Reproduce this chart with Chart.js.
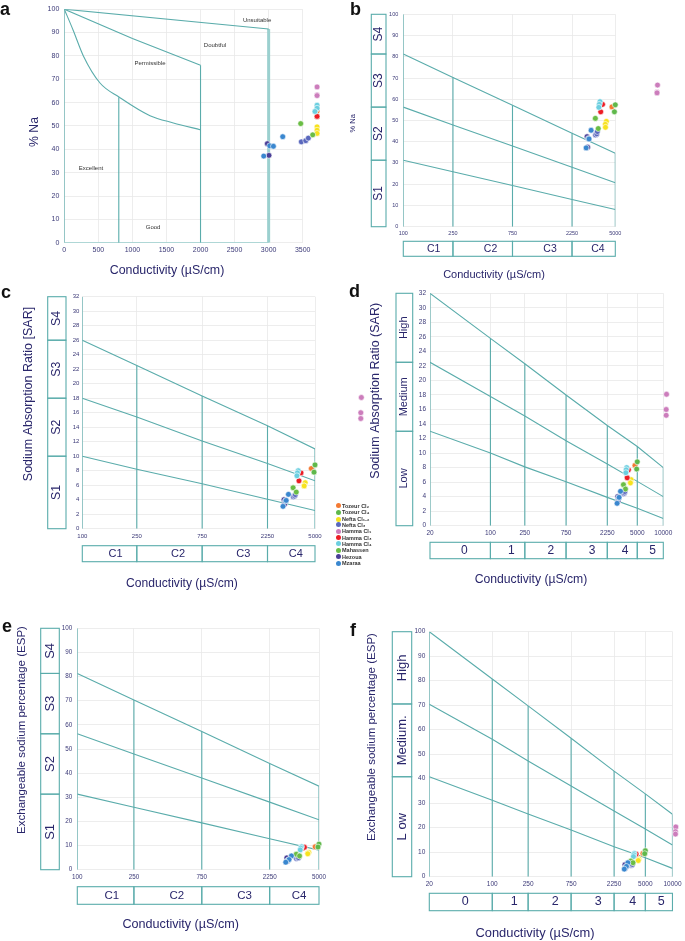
<!DOCTYPE html>
<html>
<head>
<meta charset="utf-8">
<script src="https://cdn.jsdelivr.net/npm/chart.js@4.4.1/dist/chart.umd.min.js"></script>
<style>
  html, body { margin: 0; padding: 0; background: #fff; }
  body { width: 685px; height: 941px; position: relative; overflow: hidden; font-family: "Liberation Sans", Arial, sans-serif; }
  canvas { position: absolute; }
  .lg { position: absolute; left: 335.5px; height: 6px; line-height: 6px; font: bold 5.5px "Liberation Sans", Arial, sans-serif; color: #333; white-space: nowrap; transform: translateY(-50%); }
  .lg span { display: inline-block; width: 5px; height: 5px; border-radius: 50%; margin-right: 1.5px; vertical-align: middle; position: relative; top: -0.5px; }
</style>
</head>
<body>
<script>
// ---------- sample groups (legend order) ----------
const groups = ['Tozeur Cl₂', 'Tozeur Cl₄', 'Nefta Cl₁₋₂', 'Nefta Cl₃', 'Hamma Cl₁', 'Hamma Cl₃', 'Hamma Cl₄', 'Mahassen', 'Hezoua', 'Mzaraa'];
const colors = ['#f47a33', '#5fb84b', '#f7e21e', '#5a68bd', '#cc7dbc', '#ec1c24', '#6ccfe0', '#6abd45', '#4b3f97', '#3a87cf'];

// conductivity (µS/cm) of each sample, per group
const ec = [
  [4700],
  [5000, 4920],
  [4240, 4160, 4170],
  [3470, 3550, 3590],
  [10900, 10800, 10800],
  [3820, 3950],
  [3770, 3720, 3690],
  [3460, 3650],
  [2970, 3000],
  [3200, 3040, 3080, 2920]
];
// conductivity positions as plotted on the Wilcox panel (a)
const ecWilcox = [
  [3711],
  [3711, 3711],
  [3711, 3711, 3711],
  [3480, 3545, 3583],
  [3711, 3711, 3711],
  [3711, 3711],
  [3711, 3711, 3680],
  [3471, 3647],
  [2981, 3005],
  [3207, 3016, 3070, 2928]
];
const naPct = [
  [56.4],
  [57.4, 54.1],
  [49.6, 48.2, 46.8],
  [43.2, 43.7, 44.8],
  [66.7, 63.3, 63.0],
  [54.1, 57.6],
  [58.9, 57.6, 56.2],
  [51.0, 46.2],
  [42.4, 37.4],
  [45.4, 41.5, 41.3, 37.1]
];
const sar = [
  [8.3],
  [8.8, 7.8],
  [6.35, 5.9, 5.9],
  [4.4, 4.5, 4.7],
  [18.1, 16.0, 15.2],
  [6.6, 7.7],
  [8.0, 7.7, 7.3],
  [5.65, 5.05],
  [4.0, 3.4],
  [4.74, 3.82, 3.9, 3.08]
];
const esp = [
  [9.5],
  [10.6, 9.4],
  [7.2, 6.8, 6.6],
  [4.6, 4.8, 5.0],
  [20.3, 18.4, 17.4],
  [8.9, 9.3],
  [9.5, 9.0, 8.2],
  [6.4, 5.7],
  [4.9, 3.6],
  [5.7, 4.0, 4.2, 3.1]
];

// ---------- axes ----------
const wilcoxXTicks = [0, 500, 1000, 1500, 2000, 2500, 3000, 3500];
const pctTicks = [0, 10, 20, 30, 40, 50, 60, 70, 80, 90, 100];
const sarTicks = [0, 2, 4, 6, 8, 10, 12, 14, 16, 18, 20, 22, 24, 26, 28, 30, 32];
const ecBreaks = [100, 250, 750, 2250, 5000];
const ecBreaksWide = [20, 100, 250, 750, 2250, 5000, 10000];

// ---------- classification boundaries ----------
// Wilcox diagram (a)
const wilcoxUpperX = [0, 3000];
const wilcoxUpperY = [100, 91.5];
const wilcoxMiddleX = [0, 1000, 2000];
const wilcoxMiddleY = [100, 87.5, 76];
const wilcoxLowerX = [0, 130, 280, 524, 808, 1258, 1601, 2007];
const wilcoxLowerY = [100, 91, 80, 68.4, 62.3, 54.4, 51.3, 48.3];
const wilcoxDividerX = [800, 2000, 3000];
const wilcoxDividerTop = [62.3, 76, 91.5];
const wilcoxNotes = ['Unsuitable', 'Doubtful', 'Permissible', 'Excellent', 'Good'];
const wilcoxNoteX = [2830, 2213, 1258, 392, 1303];
const wilcoxNoteY = [95.2, 84.7, 76.8, 31.8, 6.6];

// %Na / ESP classes on 100–5000 (b, e)
const pctUpper = [81.3, 70.3, 57.2, 44.0, 34.6];
const pctMiddle = [56.3, 47.9, 38.0, 28.0, 20.7];
const pctLower = [31.3, 25.9, 19.4, 12.8, 8.1];
const pctBounds = [100, 81.3, 56.3, 31.3, 0];
// SAR classes on 100–5000 (c)
const sarUpper = [26.0, 22.5, 18.3, 14.2, 11.0];
const sarMiddle = [18.0, 15.4, 12.1, 9.0, 6.6];
const sarLower = [10.0, 8.2, 6.2, 4.05, 2.5];
const sarBounds = [32, 26, 18, 10, 0];
// SAR hazard on 20–10000 (d)
const sarWideUpper = [32, 25.8, 22.3, 18.0, 13.8, 10.9, 8.0];
const sarWideMiddle = [22.5, 17.8, 15.1, 11.7, 8.5, 6.1, 4.0];
const sarWideLower = [13.0, 10.0, 8.1, 6.06, 3.9, 2.4, 1.0];
const sarWideBounds = [32, 22.5, 13, 0];
// ESP hazard on 20–10000 (f)
const espWideUpper = [100, 80.7, 69.7, 56.5, 43.1, 33.8, 25.5];
const espWideMiddle = [70.4, 56.1, 47.2, 37.0, 26.8, 19.5, 12.9];
const espWideLower = [40.8, 31.2, 25.6, 19.1, 12.2, 7.7, 3.4];
const espWideBounds = [100, 70.5, 40.8, 0];

const sLabels = ['S4', 'S3', 'S2', 'S1'];
const cLabels = ['C1', 'C2', 'C3', 'C4'];
const cLabelAt = [175, 500, 1500, 3625];
const hazardLabelsD = ['High', 'Medium', 'Low'];
const hazardLabelsF = ['High', 'Medium.', 'L ow'];
const classLabels = ['0', '1', '2', '3', '4', '5'];
const classLabelAt = [50, 175, 500, 1500, 3625, 7500];

// ---------- styles ----------
const TEAL = '#5aacab';
const GRID = '#e8e8e8';
const TICK_COLOR = '#3b3977';
const TITLE_COLOR = '#29266b';
const FONT = '"Liberation Sans", Arial, sans-serif';
const EC_TITLE = 'Conductivity (µS/cm)';

// points may sit outside the plot area (as in the original figure), so draw them all
class OpenScatterController extends Chart.ScatterController {
  draw() {
    const area = { left: -1e4, top: -1e4, right: 1e4, bottom: 1e4 };
    (this._cachedMeta.data || []).forEach((pt) => pt.draw(this._ctx, area));
  }
}
OpenScatterController.id = 'openScatter';
OpenScatterController.defaults = Chart.ScatterController.defaults;
Chart.register(OpenScatterController);

// ---------- dataset helpers ----------
function lineSet(xs, ys, extra) {
  return Object.assign({
    data: xs.map((x, i) => ({ x, y: ys[i] })),
    showLine: true, pointRadius: 0, borderColor: TEAL, borderWidth: 1.1,
    fill: false, tension: 0, order: 10
  }, extra);
}

function dividerSets(xs, tops, extra) {
  return xs.map((x, i) => lineSet([x, x], [0, tops[i]], extra));
}

function pointSets(xArr, yArr) {
  return groups.map((g, gi) => ({
    type: 'openScatter',
    label: g,
    data: xArr[gi].map((x, i) => ({ x, y: yArr[gi][i] })),
    backgroundColor: colors[gi], borderColor: '#ffffff', borderWidth: 0.6,
    pointRadius: 2.9, clip: false, order: -gi
  }));
}

// ---------- drawing of boxes, titles, letters ----------
const decorPlugin = {
  id: 'decor',
  afterDraw(chart) {
    const o = chart.canvas.decor;
    if (!o) return;
    const { ctx } = chart;
    const xs = chart.scales.x, ys = chart.scales.y;
    const [ox, oy] = o.origin;

    const text = (str, x, y, size, opts = {}) => {
      ctx.save();
      ctx.font = `${opts.bold ? 'bold ' : ''}${size}px ${FONT}`;
      ctx.fillStyle = opts.color || TITLE_COLOR;
      ctx.textAlign = opts.align || 'center';
      ctx.textBaseline = opts.baseline || 'middle';
      ctx.translate(x, y);
      if (opts.rotate) ctx.rotate(-Math.PI / 2);
      ctx.fillText(str, 0, 0);
      ctx.restore();
    };

    ctx.save();
    ctx.strokeStyle = TEAL;
    ctx.lineWidth = 1.1;

    if (o.sBoxes) {
      const b = o.sBoxes, x0 = b.x0 - ox, x1 = b.x1 - ox;
      b.labels.forEach((lab, i) => {
        const t = ys.getPixelForValue(b.bounds[i]);
        const btm = ys.getPixelForValue(b.bounds[i + 1]);
        ctx.strokeRect(x0, t, x1 - x0, btm - t);
        text(lab, (x0 + x1) / 2, (t + btm) / 2, b.size, { rotate: true });
      });
    }
    if (o.cBoxes) {
      const b = o.cBoxes, y0 = b.y0 - oy, y1 = b.y1 - oy;
      b.labels.forEach((lab, i) => {
        const l = xs.getPixelForValue(b.bounds[i]);
        const r = xs.getPixelForValue(b.bounds[i + 1]);
        ctx.strokeRect(l, y0, r - l, y1 - y0);
        text(lab, xs.getPixelForValue(b.at[i]), (y0 + y1) / 2, b.size);
      });
    }
    if (o.notes) {
      o.notes.text.forEach((t, i) => {
        text(t, xs.getPixelForValue(o.notes.x[i]), ys.getPixelForValue(o.notes.y[i]), o.notes.size, { color: '#333' });
      });
    }
    text(EC_TITLE, o.xTitle.x - ox, o.xTitle.y - oy, o.xTitle.size);
    text(o.yTitle.text, o.yTitle.x - ox, o.yTitle.y - oy, o.yTitle.size, { rotate: true });
    text(o.letter.text, o.letter.x - ox, o.letter.y - oy, 18, { bold: true, color: '#111', align: 'left', baseline: 'alphabetic' });
    ctx.restore();
  }
};
Chart.register(decorPlugin);

// ---------- one panel ----------
function makePanel(spec) {
  const cv = document.createElement('canvas');
  const [bx, by, bw, bh] = spec.box;
  const [ax0, ay0, ax1, ay1] = spec.area;
  cv.width = bw; cv.height = bh;
  cv.style.left = bx + 'px'; cv.style.top = by + 'px';
  cv.style.width = bw + 'px'; cv.style.height = bh + 'px';
  cv.decor = Object.assign({ origin: [bx, by] }, spec.decor);
  document.body.appendChild(cv);

  const axis = (type, range, ticks, pad, fit) => ({
    type, min: range[0], max: range[1],
    afterBuildTicks: (s) => { s.ticks = ticks.map((v) => ({ value: v })); },
    afterFit: fit,
    ticks: {
      callback: (v) => String(v), color: TICK_COLOR,
      font: { family: FONT, size: spec.tickSize }, padding: pad,
      autoSkip: false, maxRotation: 0, minRotation: 0
    },
    grid: { color: GRID, lineWidth: 0.8, drawTicks: false },
    border: { display: false },
    title: { display: false }
  });

  new Chart(cv, {
    type: 'scatter',
    data: { datasets: spec.datasets },
    options: {
      responsive: false, animation: false, devicePixelRatio: 1, events: [],
      layout: { padding: { left: 0, top: ay0 - by, right: bx + bw - ax1, bottom: 0 } },
      scales: {
        x: axis(spec.xType, spec.xRange, spec.xTicks, spec.xPad, (s) => { s.height = by + bh - ay1; }),
        y: axis('linear', spec.yRange, spec.yTicks, spec.yPad, (s) => { s.width = ax0 - bx; })
      },
      plugins: { legend: { display: false }, tooltip: { enabled: false } }
    }
  });
}

// ---------- panel a: Wilcox ----------
makePanel({
  box: [0, 0, 340, 290], area: [64.3, 4.7, 302.7, 242.7],
  xType: 'linear', xRange: [0, 3500], xTicks: wilcoxXTicks,
  yRange: [0, 100], yTicks: pctTicks, tickSize: 7, xPad: 3, yPad: 5,
  datasets: [
    lineSet(wilcoxUpperX, wilcoxUpperY),
    lineSet(wilcoxMiddleX, wilcoxMiddleY),
    lineSet(wilcoxLowerX, wilcoxLowerY, { cubicInterpolationMode: 'monotone' }),
    ...dividerSets(wilcoxDividerX.slice(0, 2), wilcoxDividerTop.slice(0, 2)),
    ...dividerSets(wilcoxDividerX.slice(2), wilcoxDividerTop.slice(2), { borderWidth: 3, borderColor: '#9bd0cf' }),
    lineSet([0, 0], [0, 100]),
    lineSet([0, wilcoxDividerX[2]], [0, 0], { borderColor: '#9bd0cf', borderWidth: 1.6 }),
    ...pointSets(ecWilcox, naPct)
  ],
  decor: {
    notes: { text: wilcoxNotes, x: wilcoxNoteX, y: wilcoxNoteY, size: 6 },
    xTitle: { x: 167, y: 271, size: 12.4 },
    yTitle: { text: '% Na', x: 35, y: 132, size: 12.3 },
    letter: { text: 'a', x: 0, y: 15 }
  }
});

// ---------- panel b: %Na vs EC ----------
makePanel({
  box: [340, 0, 345, 290], area: [403.3, 14.3, 615.3, 226.7],
  xType: 'logarithmic', xRange: [100, 5000], xTicks: ecBreaks,
  yRange: [0, 100], yTicks: pctTicks, tickSize: 5.5, xPad: 3, yPad: 5,
  datasets: [
    lineSet(ecBreaks, pctUpper), lineSet(ecBreaks, pctMiddle), lineSet(ecBreaks, pctLower),
    ...dividerSets(ecBreaks.slice(1), pctUpper.slice(1)),
    lineSet([ecBreaks[0], ecBreaks[0]], [0, 100]),
    ...pointSets(ec, naPct)
  ],
  decor: {
    sBoxes: { x0: 371.3, x1: 386, bounds: pctBounds, labels: sLabels, size: 12 },
    cBoxes: { y0: 241.3, y1: 256.3, bounds: ecBreaks, at: cLabelAt, labels: cLabels, size: 10.5 },
    xTitle: { x: 494, y: 275.3, size: 11 },
    yTitle: { text: '% Na', x: 353.3, y: 123.3, size: 7.5 },
    letter: { text: 'b', x: 350, y: 15 }
  }
});

// ---------- panel c: SAR vs EC ----------
makePanel({
  box: [0, 284, 372, 336], area: [82.3, 296.7, 315, 528.7],
  xType: 'logarithmic', xRange: [100, 5000], xTicks: ecBreaks,
  yRange: [0, 32], yTicks: sarTicks, tickSize: 6, xPad: 4, yPad: 3,
  datasets: [
    lineSet(ecBreaks, sarUpper), lineSet(ecBreaks, sarMiddle), lineSet(ecBreaks, sarLower),
    ...dividerSets(ecBreaks.slice(1), sarUpper.slice(1)),
    lineSet([ecBreaks[0], ecBreaks[0]], [0, 32]),
    ...pointSets(ec, sar)
  ],
  decor: {
    sBoxes: { x0: 47.7, x1: 66, bounds: sarBounds, labels: sLabels, size: 12.3 },
    cBoxes: { y0: 545.7, y1: 561.7, bounds: ecBreaks, at: cLabelAt, labels: cLabels, size: 11 },
    xTitle: { x: 182, y: 583.3, size: 12.1 },
    yTitle: { text: 'Sodium Absorption Ratio [SAR]', x: 28.3, y: 394, size: 12.5 },
    letter: { text: 'c', x: 1, y: 298 }
  }
});

// ---------- panel d: SAR hazard ----------
makePanel({
  box: [340, 282, 345, 338], area: [430, 293.3, 663.3, 525.7],
  xType: 'logarithmic', xRange: [20, 10000], xTicks: ecBreaksWide,
  yRange: [0, 32], yTicks: sarTicks, tickSize: 6.5, xPad: 3.5, yPad: 4,
  datasets: [
    lineSet(ecBreaksWide, sarWideUpper), lineSet(ecBreaksWide, sarWideMiddle), lineSet(ecBreaksWide, sarWideLower),
    ...dividerSets(ecBreaksWide.slice(1), sarWideUpper.slice(1)),
    lineSet([ecBreaksWide[0], ecBreaksWide[0]], [0, 32]),
    ...pointSets(ec, sar)
  ],
  decor: {
    sBoxes: { x0: 396, x1: 412.7, bounds: sarWideBounds, labels: hazardLabelsD, size: 11 },
    cBoxes: { y0: 542.3, y1: 558.7, bounds: ecBreaksWide, at: classLabelAt, labels: classLabels, size: 12 },
    xTitle: { x: 531, y: 580, size: 12.2 },
    yTitle: { text: 'Sodium Absorption Ratio (SAR)', x: 376, y: 390.8, size: 12.5 },
    letter: { text: 'd', x: 349, y: 297 }
  }
});

// ---------- panel e: ESP vs EC ----------
makePanel({
  box: [0, 608, 340, 333], area: [77.3, 628.3, 319, 869.7],
  xType: 'logarithmic', xRange: [100, 5000], xTicks: ecBreaks,
  yRange: [0, 100], yTicks: pctTicks, tickSize: 6.3, xPad: 4, yPad: 5,
  datasets: [
    lineSet(ecBreaks, pctUpper), lineSet(ecBreaks, pctMiddle), lineSet(ecBreaks, pctLower),
    ...dividerSets(ecBreaks.slice(1), pctUpper.slice(1)),
    lineSet([ecBreaks[0], ecBreaks[0]], [0, 100]),
    ...pointSets(ec, esp)
  ],
  decor: {
    sBoxes: { x0: 40.7, x1: 59.3, bounds: pctBounds, labels: sLabels, size: 13 },
    cBoxes: { y0: 886.7, y1: 904.3, bounds: ecBreaks, at: cLabelAt, labels: cLabels, size: 11.5 },
    xTitle: { x: 180.7, y: 925, size: 12.6 },
    yTitle: { text: 'Exchangeable sodium percentage (ESP)', x: 21.7, y: 730, size: 11.5 },
    letter: { text: 'e', x: 2, y: 632 }
  }
});

// ---------- panel f: ESP hazard ----------
makePanel({
  box: [340, 608, 345, 333], area: [429.3, 631.7, 674.3, 876.7],
  xType: 'logarithmic', xRange: [20, 10000], xTicks: ecBreaksWide,
  yRange: [0, 100], yTicks: pctTicks, tickSize: 6.5, xPad: 3.5, yPad: 4,
  datasets: [
    lineSet(ecBreaksWide, espWideUpper), lineSet(ecBreaksWide, espWideMiddle), lineSet(ecBreaksWide, espWideLower),
    ...dividerSets(ecBreaksWide.slice(1), espWideUpper.slice(1)),
    lineSet([ecBreaksWide[0], ecBreaksWide[0]], [0, 100]),
    ...pointSets(ec, esp)
  ],
  decor: {
    sBoxes: { x0: 392.3, x1: 411.7, bounds: espWideBounds, labels: hazardLabelsF, size: 13 },
    cBoxes: { y0: 893.3, y1: 910.7, bounds: ecBreaksWide, at: classLabelAt, labels: classLabels, size: 12.5 },
    xTitle: { x: 535, y: 933.3, size: 12.9 },
    yTitle: { text: 'Exchangeable sodium percentage (ESP)', x: 371.7, y: 737, size: 11.5 },
    letter: { text: 'f', x: 350, y: 636 }
  }
});

// ---------- legend (between c and d) ----------
const LEGEND_Y = 505.7;
const LEGEND_STEP = 6.37;
groups.forEach((g, i) => {
  const row = document.createElement('div');
  row.className = 'lg';
  row.style.top = (LEGEND_Y + i * LEGEND_STEP) + 'px';
  row.innerHTML = `<span style="background:${colors[i]}"></span>${g}`;
  document.body.appendChild(row);
});
</script>
</body>
</html>
